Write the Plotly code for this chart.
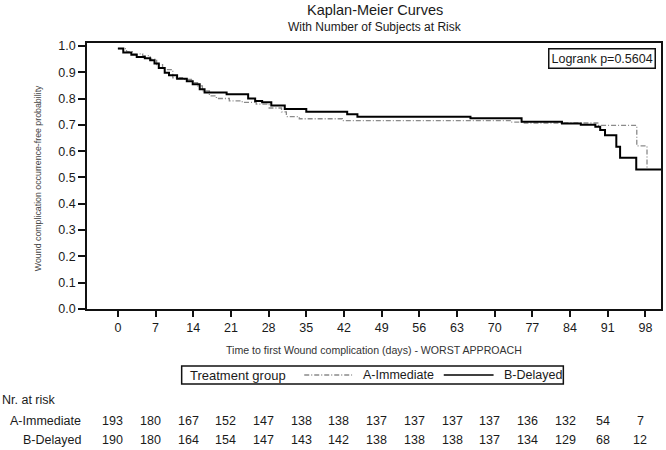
import plotly.graph_objects as go

# ---- data ----
groups = ["A-Immediate", "B-Delayed"]

days_a = [0, 1.6, 2.8, 4.6, 6.0, 7.2, 8.3, 10.2, 12.0, 13.9, 14.8, 15.7, 17.0, 18.3,
          20.7, 23.1, 25.7, 28.1, 30.4, 31.3, 33.7, 41.7, 73.0, 75.5, 89.3, 96.4, 98.3]
surv_a = [0.99, 0.978, 0.97, 0.963, 0.95, 0.929, 0.91, 0.879, 0.873, 0.86, 0.848, 0.829, 0.81, 0.80,
          0.791, 0.785, 0.779, 0.764, 0.749, 0.731, 0.723, 0.716, 0.71, 0.707, 0.698, 0.62, 0.53]

days_b = [0, 1.0, 2.5, 3.5, 5.0, 6.0, 6.8, 7.6, 8.7, 9.5, 11.0, 12.8, 13.9, 15.2, 16.1,
          20.2, 24.2, 25.5, 26.8, 28.5, 31.0, 35.0, 42.6, 44.5, 65.5, 75.0, 82.5, 86.0,
          88.7, 89.6, 90.5, 92.6, 93.3, 96.3, 101.0]
surv_b = [0.99, 0.975, 0.966, 0.958, 0.953, 0.945, 0.933, 0.916, 0.898, 0.888, 0.875, 0.866, 0.854, 0.835, 0.823,
          0.816, 0.80, 0.791, 0.786, 0.773, 0.76, 0.75, 0.74, 0.731, 0.725, 0.712, 0.705, 0.70,
          0.693, 0.68, 0.66, 0.617, 0.575, 0.53, 0.53]

tick_days = [0, 7, 14, 21, 28, 35, 42, 49, 56, 63, 70, 77, 84, 91, 98]
risk_a = [193, 180, 167, 152, 147, 138, 138, 137, 137, 137, 137, 136, 132, 54, 7]
risk_b = [190, 180, 164, 154, 147, 143, 142, 138, 138, 138, 137, 134, 129, 68, 12]

title = "Kaplan-Meier Curves"
subtitle = "With Number of Subjects at Risk"
x_title = "Time to first Wound complication (days) - WORST APPROACH"
y_title = "Wound complication occurrence-free probability"
logrank = "Logrank p=0.5604"

# ---- layout geometry (pixels) ----
W, H = 666, 450
L, R, T, B = 87, 663, 43, 309
FONT = "Liberation Sans, Arial, sans-serif"


def xp(px):
    return (px - L) / (R - L)


def yp(py):
    return (B - py) / (B - T)


fig = go.Figure()
fig.add_trace(go.Scatter(x=days_a, y=surv_a, mode="lines", name=groups[0], showlegend=False,
                         line=dict(shape="hv", color="#8a8a8a", width=1.3, dash="5px,2px,1px,2px")))
fig.add_trace(go.Scatter(x=days_b, y=surv_b, mode="lines", name=groups[1], showlegend=False,
                         line=dict(shape="hv", color="#000000", width=2)))

axis_common = dict(showline=True, linecolor="#111", linewidth=1.5, mirror=True,
                   ticks="outside", tickcolor="#111", tickwidth=1.5,
                   showgrid=False, zeroline=False,
                   tickfont=dict(family=FONT, size=12.5, color="#1a1a1a"))

fig.update_layout(
    width=W, height=H,
    margin=dict(l=L, r=W - R, t=T, b=H - B, pad=0),
    paper_bgcolor="white", plot_bgcolor="white",
    font=dict(family=FONT, color="#1a1a1a"),
    xaxis=dict(range=[-5.74, 100.9], tickmode="array", tickvals=tick_days, ticklen=6, **axis_common),
    yaxis=dict(range=[0, 1.011], tick0=0, dtick=0.1, tickformat=".1f", ticklen=7, **axis_common),
)

ann = []
ann.append(dict(text=title, x=xp(376), y=yp(10), xref="paper", yref="paper", showarrow=False,
                xanchor="center", yanchor="middle", font=dict(size=14.5)))
ann.append(dict(text=subtitle, x=xp(376), y=yp(27), xref="paper", yref="paper", showarrow=False,
                xanchor="center", yanchor="middle", font=dict(size=12)))
ann.append(dict(text=y_title, x=xp(38), y=yp(178), xref="paper", yref="paper", showarrow=False,
                textangle=-90, xanchor="center", yanchor="middle", font=dict(size=8.8, color="#444")))
ann.append(dict(text=x_title, x=xp(375), y=yp(350), xref="paper", yref="paper", showarrow=False,
                xanchor="center", yanchor="middle", font=dict(size=10.6, color="#333")))
ann.append(dict(text=logrank, x=xp(658), y=yp(48), xref="paper", yref="paper", showarrow=False,
                xanchor="right", yanchor="top", bordercolor="#111", borderwidth=1.5, borderpad=2,
                bgcolor="white", font=dict(size=12.5)))

# legend (manual box)
leg_y = 375
ann.append(dict(text="Treatment group", x=xp(188), y=yp(leg_y), xref="paper", yref="paper",
                showarrow=False, xanchor="left", yanchor="middle", font=dict(size=13)))
ann.append(dict(text=groups[0], x=xp(362), y=yp(leg_y), xref="paper", yref="paper",
                showarrow=False, xanchor="left", yanchor="middle", font=dict(size=12.5)))
ann.append(dict(text=groups[1], x=xp(503), y=yp(leg_y), xref="paper", yref="paper",
                showarrow=False, xanchor="left", yanchor="middle", font=dict(size=12.5)))

shapes = [
    dict(type="rect", xref="paper", yref="paper", x0=xp(182), x1=xp(565), y0=yp(366), y1=yp(384),
         line=dict(color="#111", width=1.5)),
    dict(type="line", xref="paper", yref="paper", x0=xp(305), x1=xp(353), y0=yp(leg_y), y1=yp(leg_y),
         line=dict(color="#8a8a8a", width=1.3, dash="5px,2px,1px,2px")),
    dict(type="line", xref="paper", yref="paper", x0=xp(445), x1=xp(495), y0=yp(leg_y), y1=yp(leg_y),
         line=dict(color="#000", width=1.5)),
]

# number at risk table
ann.append(dict(text="Nr. at risk", x=xp(0), y=yp(400), xref="paper", yref="paper", showarrow=False,
                xanchor="left", yanchor="middle", font=dict(size=12.5)))
row_y = [421, 440]
for g, vals, ry in zip(groups, [risk_a, risk_b], row_y):
    ann.append(dict(text=g, x=xp(83), y=yp(ry), xref="paper", yref="paper", showarrow=False,
                    xanchor="right", yanchor="middle", font=dict(size=12.5)))
    for d, v in zip(tick_days, vals):
        ann.append(dict(text=str(v), x=d, y=yp(ry), xref="x", yref="paper", showarrow=False,
                        xanchor="center", yanchor="middle", xshift=-5, font=dict(size=12.5)))

fig.update_layout(annotations=ann, shapes=shapes)
fig.write_html("out.html", config={"displayModeBar": False},
               post_script="document.body.style.margin='0px';document.body.style.overflow='hidden';")
